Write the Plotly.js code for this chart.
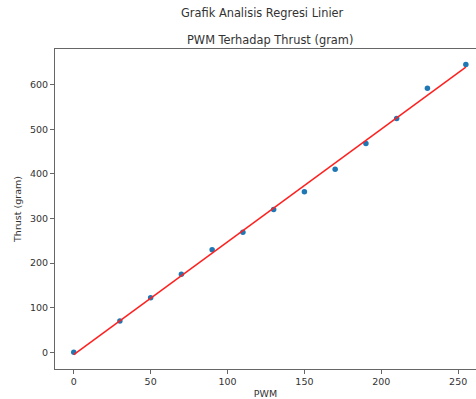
<!DOCTYPE html>
<html>
<head>
<meta charset="utf-8">
<script src="https://cdn.plot.ly/plotly-3.0.1.min.js"></script>
<style>html,body{margin:0;padding:0;background:#fff;}#chart{width:476px;height:399px;}</style>
</head>
<body>
<div id="chart"></div>
<script>
// Measured data (PWM vs thrust in grams)
const pwm = [0, 30, 50, 70, 90, 110, 130, 150, 170, 190, 210, 230, 255];
const thrust = [0, 70, 122, 175, 230, 269, 320, 360, 410, 468, 524, 592, 645];
// Regression line endpoints
const fitX = [0, 255];
const fitY = [-5, 639];

const font = 'DejaVu Sans, sans-serif';
const traces = [
  {
    x: pwm, y: thrust, type: 'scatter', mode: 'markers',
    marker: {color: '#1f77b4', size: 5.5},
    name: 'Data', showlegend: false, hoverinfo: 'x+y'
  },
  {
    x: fitX, y: fitY, type: 'scatter', mode: 'lines',
    line: {color: '#ff2020', width: 1.5},
    name: 'Regresi', showlegend: false
  }
];

const layout = {
  width: 476, height: 399,
  margin: {l: 55, r: 0, t: 49, b: 30, pad: 0},
  paper_bgcolor: '#fff', plot_bgcolor: '#fff',
  font: {family: font, color: '#222', size: 9.5},
  showlegend: false,
  xaxis: {
    range: [-12.2, 261.6], tickvals: [0, 50, 100, 150, 200, 250],
    showgrid: false, zeroline: false,
    showline: true, mirror: true, linecolor: '#666', linewidth: 1,
    ticks: 'outside', ticklen: 4, tickcolor: '#666', tickwidth: 1,
    tickfont: {family: font, size: 9.5, color: '#333'},
    title: {text: 'PWM', font: {family: font, size: 9.5, color: '#333'}, standoff: 4}
  },
  yaxis: {
    range: [-37.4, 679.7], tickvals: [0, 100, 200, 300, 400, 500, 600],
    showgrid: false, zeroline: false,
    showline: true, mirror: false, linecolor: '#666', linewidth: 1,
    ticks: 'outside', ticklen: 4, tickcolor: '#666', tickwidth: 1,
    tickfont: {family: font, size: 9.5, color: '#333'},
    title: {text: 'Thrust (gram)', font: {family: font, size: 9.5, color: '#333'}, standoff: 6}
  },
  annotations: [
    {text: 'Grafik Analisis Regresi Linier', xref: 'paper', yref: 'paper',
     x: 0.493, y: 1.1125, xanchor: 'center', yanchor: 'middle', showarrow: false,
     font: {family: font, size: 11.4, color: '#333'}},
    {text: 'PWM Terhadap Thrust (gram)', xref: 'paper', yref: 'paper',
     x: 0.5107, y: 1.028, xanchor: 'center', yanchor: 'middle', showarrow: false,
     font: {family: font, size: 11.4, color: '#333'}}
  ]
};

Plotly.newPlot('chart', traces, layout, {staticPlot: true, displayModeBar: false});
</script>
</body>
</html>
